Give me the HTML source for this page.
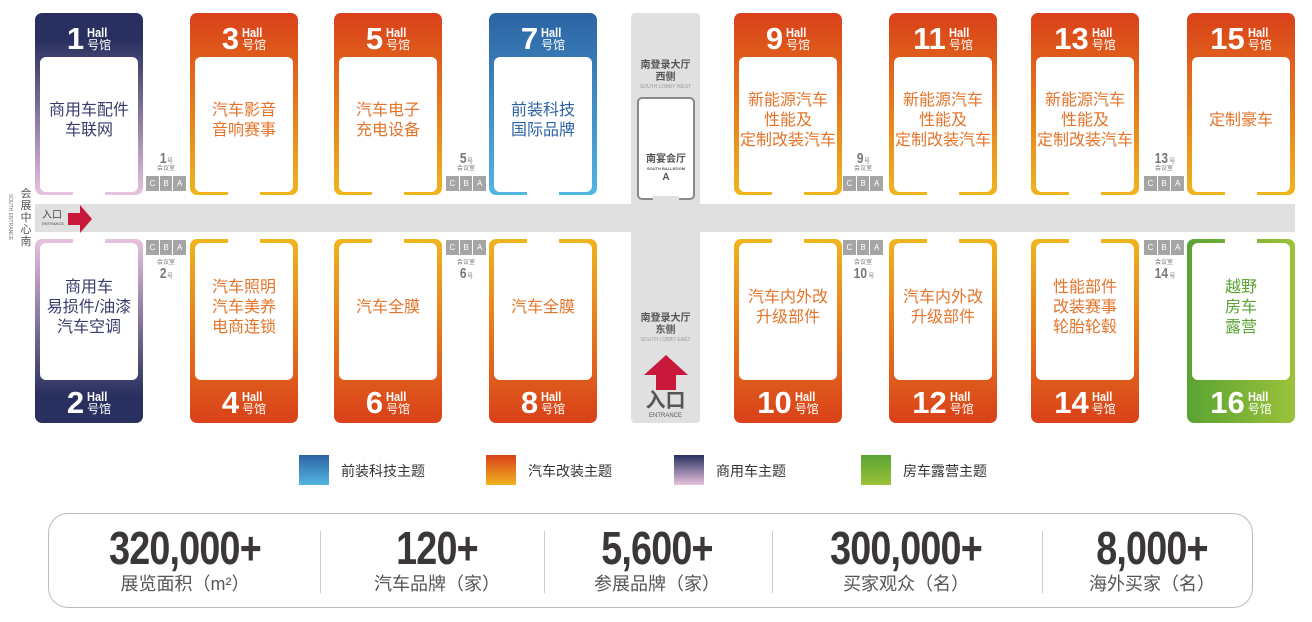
<!DOCTYPE html>
<html><head><meta charset="utf-8"><style>
*{margin:0;padding:0;box-sizing:border-box}
body{width:1312px;height:622px;background:#fff;position:relative;overflow:hidden;font-family:"Liberation Sans","Noto Sans CJK SC",sans-serif}
.a{position:absolute}
.h{position:absolute;width:108px;border-radius:7px}
.t{top:13px;height:182px}
.b{top:239px;height:184px}
.o.t{background:linear-gradient(#d9401a,#f0b41f)}
.o.b{background:linear-gradient(#f0b41f,#d9401a)}
.p.t{background:linear-gradient(#29305f 15%,#e8c3df)}
.p.b{background:linear-gradient(#e8c3df,#29305f 85%)}
.bl{background:linear-gradient(#2d63a4,#52b6e2)}
.g{background:linear-gradient(90deg,#5aa333,#9bc23a)}
.in{position:absolute;left:5px;right:5px;background:#fff;border-radius:6px;display:flex;align-items:center;justify-content:center;text-align:center;font-size:16px;line-height:20px;color:#e4742a;padding-bottom:8px}
.t .in{top:44px;bottom:3px}
.b .in{top:4px;bottom:43px}
.p .in{color:#393b6c}
.g .in{color:#5aa333}
.gap{position:absolute;left:38px;width:32px;height:6px;background:#fff}
.t .gap{bottom:0}.b .gap{top:0}
.num{position:absolute;left:0;right:0;height:44px;display:flex;align-items:center;justify-content:center;color:#fff}
.t .num{top:4px}.b .num{bottom:-2px}
.num b{font-size:31px;font-weight:bold;margin-right:3px;line-height:30px}
.num span{display:flex;flex-direction:column;font-size:12px;line-height:13px}
.num i{font-style:normal;font-weight:bold;font-size:13px;display:inline-block;transform:scaleX(.85);transform-origin:left}
.mr{position:absolute;width:40px}
.sq{display:flex;gap:1px}
.sq div{width:13px;height:15px;background:#a5a5a5;color:#fff;font-size:8px;line-height:15px;text-align:center}
.ml{text-align:center;color:#777;font-size:6px;line-height:7px}
.ml b{font-size:15px;line-height:14px;display:inline-block;transform:scaleX(.8)}
.lg{position:absolute;top:455px;width:30px;height:30px}
.lt{position:absolute;top:461px;font-size:14px;color:#333}
.st{position:absolute;top:524px;width:240px;text-align:center}
.st b{display:block;font-size:46px;line-height:48px;color:#3b3737;transform:scaleX(.82);letter-spacing:-1px}
.st span{display:block;font-size:18px;color:#555;line-height:24px;margin-top:0px}
.dv{position:absolute;top:531px;width:1px;height:62px;background:#ccc}
</style></head><body>
<div class="a" style="left:35px;top:204px;width:1260px;height:28px;background:#e0e0e0"></div>
<div class="a" style="left:631px;top:13px;width:69px;height:410px;background:#e0e0e0;border-radius:4px"></div>
<div class="a" style="left:42px;top:210px;font-size:10px;color:#444;line-height:11px">入口<div style="font-size:4px;line-height:5px">ENTRANCE</div></div>
<svg class="a" style="left:68px;top:205px" width="24" height="28"><polygon points="0,8 12,8 12,0 24,14 12,28 12,20 0,20" fill="#c8193c"/></svg>
<div class="a" style="left:20px;top:188px;width:12px;font-size:11px;line-height:12px;color:#555;text-align:center">会展中心南</div>
<div class="a" style="left:-20px;top:214px;font-size:5px;color:#777;transform:rotate(90deg);width:60px;text-align:center">SOUTH ENTRANCE</div>

<div class="h t p" style="left:35px"><div class="num"><b>1</b><span><i>Hall</i>号馆</span></div><div class="in">商用车配件<br>车联网</div><div class="gap"></div></div>
<div class="h t o" style="left:190px"><div class="num"><b>3</b><span><i>Hall</i>号馆</span></div><div class="in">汽车影音<br>音响赛事</div><div class="gap"></div></div>
<div class="h t o" style="left:334px"><div class="num"><b>5</b><span><i>Hall</i>号馆</span></div><div class="in">汽车电子<br>充电设备</div><div class="gap"></div></div>
<div class="h t bl" style="left:489px"><div class="num"><b>7</b><span><i>Hall</i>号馆</span></div><div class="in" style="color:#2d63a4">前装科技<br>国际品牌</div><div class="gap"></div></div>
<div class="h t o" style="left:734px"><div class="num"><b>9</b><span><i>Hall</i>号馆</span></div><div class="in">新能源汽车<br>性能及<br>定制改装汽车</div><div class="gap"></div></div>
<div class="h t o" style="left:889px"><div class="num"><b>11</b><span><i>Hall</i>号馆</span></div><div class="in">新能源汽车<br>性能及<br>定制改装汽车</div><div class="gap"></div></div>
<div class="h t o" style="left:1031px"><div class="num"><b>13</b><span><i>Hall</i>号馆</span></div><div class="in">新能源汽车<br>性能及<br>定制改装汽车</div><div class="gap"></div></div>
<div class="h t o" style="left:1187px"><div class="num"><b>15</b><span><i>Hall</i>号馆</span></div><div class="in">定制豪车</div><div class="gap"></div></div>

<div class="h b p" style="left:35px"><div class="gap"></div><div class="in">商用车<br>易损件/油漆<br>汽车空调</div><div class="num"><b>2</b><span><i>Hall</i>号馆</span></div></div>
<div class="h b o" style="left:190px"><div class="gap"></div><div class="in">汽车照明<br>汽车美养<br>电商连锁</div><div class="num"><b>4</b><span><i>Hall</i>号馆</span></div></div>
<div class="h b o" style="left:334px"><div class="gap"></div><div class="in">汽车全膜</div><div class="num"><b>6</b><span><i>Hall</i>号馆</span></div></div>
<div class="h b o" style="left:489px"><div class="gap"></div><div class="in">汽车全膜</div><div class="num"><b>8</b><span><i>Hall</i>号馆</span></div></div>
<div class="h b o" style="left:734px"><div class="gap"></div><div class="in">汽车内外改<br>升级部件</div><div class="num"><b>10</b><span><i>Hall</i>号馆</span></div></div>
<div class="h b o" style="left:889px"><div class="gap"></div><div class="in">汽车内外改<br>升级部件</div><div class="num"><b>12</b><span><i>Hall</i>号馆</span></div></div>
<div class="h b o" style="left:1031px"><div class="gap"></div><div class="in">性能部件<br>改装赛事<br>轮胎轮毂</div><div class="num"><b>14</b><span><i>Hall</i>号馆</span></div></div>
<div class="h b g" style="left:1187px"><div class="gap"></div><div class="in">越野<br>房车<br>露营</div><div class="num"><b>16</b><span><i>Hall</i>号馆</span></div></div>

<div class="mr" style="left:146px;top:152px"><div class="ml"><b>1</b>号<br>会议室</div><div class="sq" style="margin-top:3px"><div>C</div><div>B</div><div>A</div></div></div>
<div class="mr" style="left:446px;top:152px"><div class="ml"><b>5</b>号<br>会议室</div><div class="sq" style="margin-top:3px"><div>C</div><div>B</div><div>A</div></div></div>
<div class="mr" style="left:843px;top:152px"><div class="ml"><b>9</b>号<br>会议室</div><div class="sq" style="margin-top:3px"><div>C</div><div>B</div><div>A</div></div></div>
<div class="mr" style="left:1144px;top:152px"><div class="ml"><b>13</b>号<br>会议室</div><div class="sq" style="margin-top:3px"><div>C</div><div>B</div><div>A</div></div></div>
<div class="mr" style="left:146px;top:240px"><div class="sq"><div>C</div><div>B</div><div>A</div></div><div class="ml" style="margin-top:5px">会议室<br><b>2</b>号</div></div>
<div class="mr" style="left:446px;top:240px"><div class="sq"><div>C</div><div>B</div><div>A</div></div><div class="ml" style="margin-top:5px">会议室<br><b>6</b>号</div></div>
<div class="mr" style="left:843px;top:240px"><div class="sq"><div>C</div><div>B</div><div>A</div></div><div class="ml" style="margin-top:5px">会议室<br><b>10</b>号</div></div>
<div class="mr" style="left:1144px;top:240px"><div class="sq"><div>C</div><div>B</div><div>A</div></div><div class="ml" style="margin-top:5px">会议室<br><b>14</b>号</div></div>

<div class="a" style="left:631px;top:60px;width:69px;text-align:center;color:#555;font-size:10px;line-height:12px;font-weight:bold">南登录大厅<br>西侧<div style="font-size:5px;line-height:7px;color:#999;font-weight:normal">SOUTH LOBBY WEST</div></div>
<div class="a" style="left:637px;top:97px;width:58px;height:103px;border:2px solid #8a8a8a;border-radius:5px;background:#fff"></div>
<div class="a" style="left:653px;top:196px;width:26px;height:5px;background:#e0e0e0"></div>
<div class="a" style="left:637px;top:154px;width:58px;text-align:center;color:#555;font-size:10px;line-height:12px;font-weight:bold">南宴会厅<div style="font-size:4px;line-height:6px">SOUTH BALLROOM</div><div style="font-size:10px">A</div></div>
<div class="a" style="left:631px;top:313px;width:69px;text-align:center;color:#555;font-size:10px;line-height:12px;font-weight:bold">南登录大厅<br>东侧<div style="font-size:5px;line-height:7px;color:#999;font-weight:normal">SOUTH LOBBY EAST</div></div>
<svg class="a" style="left:644px;top:355px" width="44" height="35"><polygon points="22,0 44,20 32,20 32,35 12,35 12,20 0,20" fill="#c8193c"/></svg>
<div class="a" style="left:631px;top:390px;width:69px;text-align:center;color:#555;font-size:20px;line-height:22px;font-weight:bold">入口<div style="font-size:6px;line-height:8px;font-weight:normal">ENTRANCE</div></div>

<div class="lg" style="left:299px;background:linear-gradient(#2d63a4,#52b6e2)"></div><div class="lt" style="left:341px">前装科技主题</div>
<div class="lg" style="left:486px;background:linear-gradient(#d9401a,#f0b41f)"></div><div class="lt" style="left:528px">汽车改装主题</div>
<div class="lg" style="left:674px;background:linear-gradient(#29305f,#e8c3df)"></div><div class="lt" style="left:716px">商用车主题</div>
<div class="lg" style="left:861px;background:linear-gradient(#5aa333,#9bc23a)"></div><div class="lt" style="left:903px">房车露营主题</div>

<div class="a" style="left:48px;top:513px;width:1205px;height:95px;border:1px solid #bbb;border-radius:20px"></div>
<div class="st" style="left:65px"><b>320,000+</b><span>展览面积（m²）</span></div>
<div class="st" style="left:317px"><b>120+</b><span>汽车品牌（家）</span></div>
<div class="st" style="left:537px"><b>5,600+</b><span>参展品牌（家）</span></div>
<div class="st" style="left:786px"><b>300,000+</b><span>买家观众（名）</span></div>
<div class="st" style="left:1032px"><b>8,000+</b><span>海外买家（名）</span></div>
<div class="dv" style="left:320px"></div><div class="dv" style="left:544px"></div><div class="dv" style="left:772px"></div><div class="dv" style="left:1042px"></div>
</body></html>
